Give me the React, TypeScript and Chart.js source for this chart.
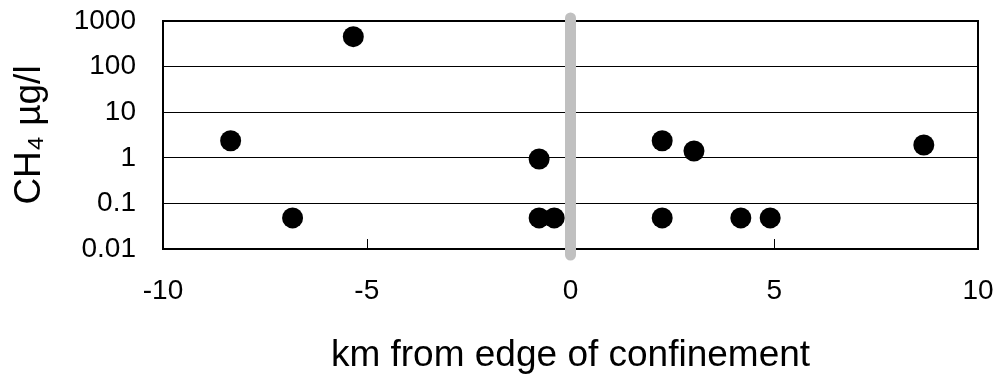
import React, { useEffect, useRef } from 'react';
import { Chart, registerables } from 'chart.js';

Chart.register(...registerables);

const distanceKm = [-8.34, -5.33, -6.82, -0.77, -0.77, -0.4, 2.25, 3.03, 8.67, 2.25, 4.18, 4.9];
const ch4UgPerL = [2.37, 453, 0.048, 0.94, 0.048, 0.048, 2.37, 1.41, 1.91, 0.048, 0.048, 0.048];
const yTicks = [0.01, 0.1, 1, 10, 100, 1000];
const yTickLabels = ['0.01', '0.1', '1', '10', '100', '1000'];
const xTicks = [-10, -5, 0, 5, 10];
const xTickLabels = ['-10', '-5', '0', '5', '10'];
const confinementEdgeKm = 0;

const FONT = "'Liberation Sans', Arial, sans-serif";

const framePlugin = {
  id: 'frame',
  afterDatasetsDraw(chart: any) {
    const { ctx, chartArea, scales } = chart;
    const x = scales.x;
    ctx.save();
    ctx.strokeStyle = '#000';
    ctx.lineWidth = 1;
    xTicks.forEach((v) => {
      const px = Math.round(x.getPixelForValue(v)) + 0.5;
      ctx.beginPath();
      ctx.moveTo(px, chartArea.bottom);
      ctx.lineTo(px, chartArea.bottom - 10);
      ctx.stroke();
    });
    ctx.lineWidth = 2;
    ctx.strokeRect(chartArea.left, chartArea.top, chartArea.right - chartArea.left, chartArea.bottom - chartArea.top);
    const gx = x.getPixelForValue(confinementEdgeKm);
    ctx.strokeStyle = '#c0c0c0';
    ctx.lineWidth = 11;
    ctx.lineCap = 'round';
    ctx.beginPath();
    ctx.moveTo(gx, chartArea.top - 3);
    ctx.lineTo(gx, chartArea.bottom + 6);
    ctx.stroke();
    ctx.restore();
  },
};

export default function App() {
  const canvasRef = useRef<HTMLCanvasElement | null>(null);

  useEffect(() => {
    document.body.style.margin = '0';
    const canvas = canvasRef.current;
    if (!canvas) return;
    const chart = new Chart(canvas, {
      type: 'scatter',
      data: {
        datasets: [
          {
            data: distanceKm.map((x, i) => ({ x, y: ch4UgPerL[i] })),
            backgroundColor: '#000',
            borderColor: '#000',
            pointRadius: 10.5,
            pointHoverRadius: 10.5,
            borderWidth: 0,
          },
        ],
      },
      options: {
        animation: false,
        responsive: false,
        maintainAspectRatio: false,
        layout: { autoPadding: false, padding: { left: 0, right: 20, top: 21, bottom: 0 } },
        plugins: { legend: { display: false }, tooltip: { enabled: false } },
        scales: {
          x: {
            type: 'linear',
            min: -10,
            max: 10,
            afterBuildTicks: (s: any) => {
              s.ticks = xTicks.map((v) => ({ value: v }));
            },
            afterFit: (s: any) => {
              s.height = 131;
              s.paddingLeft = 0;
              s.paddingRight = 0;
              s.paddingTop = 0;
              s.paddingBottom = 0;
            },
            ticks: {
              color: '#000',
              font: { family: FONT, size: 28 },
              padding: 25,
              maxRotation: 0,
              callback: (v: any) => xTickLabels[xTicks.indexOf(Number(v))] ?? '',
            },
            grid: { display: false, drawTicks: false },
            border: { display: false },
            title: {
              display: true,
              text: 'km from edge of confinement',
              color: '#000',
              font: { family: FONT, size: 37 },
              padding: { top: 0, bottom: 2 },
            },
          },
          y: {
            type: 'logarithmic',
            min: 0.01,
            max: 1000,
            afterBuildTicks: (s: any) => {
              s.ticks = yTicks.map((v) => ({ value: v }));
            },
            afterFit: (s: any) => {
              s.width = 163;
              s.paddingLeft = 0;
              s.paddingRight = 0;
              s.paddingTop = 0;
              s.paddingBottom = 0;
            },
            ticks: {
              color: '#000',
              font: { family: FONT, size: 28 },
              padding: 27,
              callback: (v: any) => yTickLabels[yTicks.indexOf(Number(v))] ?? '',
            },
            grid: { color: '#000', lineWidth: 1, drawTicks: false },
            border: { display: false },
            title: {
              display: true,
              text: 'CH\u2084 \u00b5g/l',
              color: '#000',
              font: { family: FONT, size: 37 },
              padding: { top: 8, bottom: 0 },
            },
          },
        },
      },
      plugins: [framePlugin],
    });
    return () => chart.destroy();
  }, []);

  return (
    <div style={{ width: 998, height: 380, background: '#fff' }}>
      <canvas ref={canvasRef} width={998} height={380} style={{ display: 'block' }} />
    </div>
  );
}
